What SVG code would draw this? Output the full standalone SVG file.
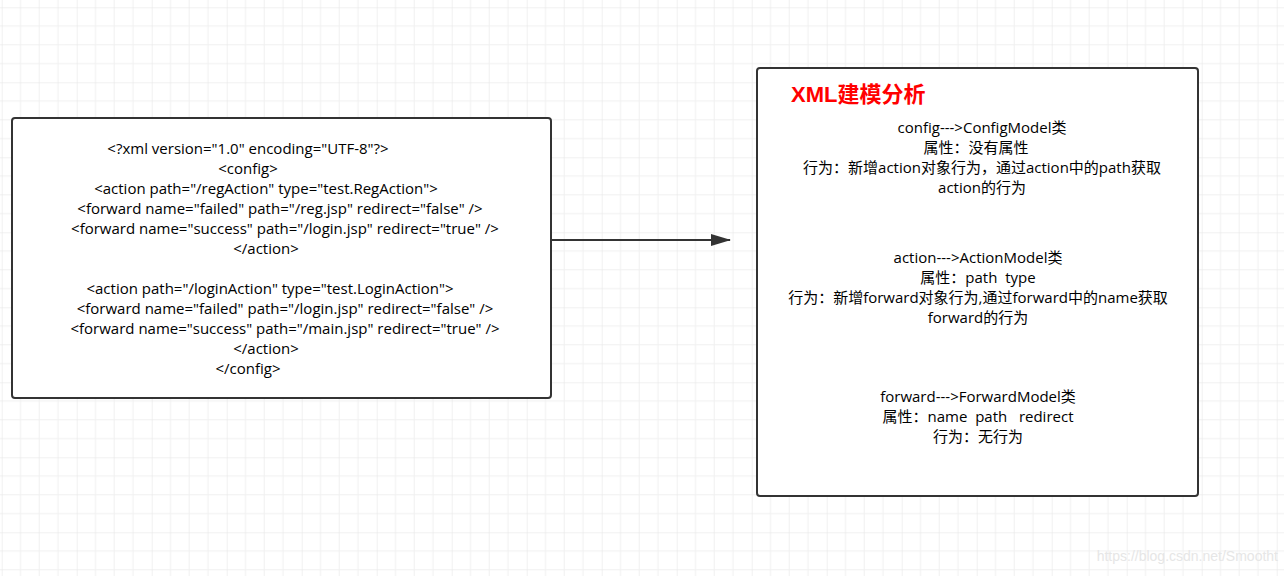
<svg xmlns="http://www.w3.org/2000/svg" width="1284" height="576" viewBox="0 0 1284 576">
<defs>
<pattern id="g" x="1.7" y="7.3" width="75" height="75" patternUnits="userSpaceOnUse">
<path d="M18.75 0V75M37.5 0V75M56.25 0V75M0 18.75H75M0 37.5H75M0 56.25H75" stroke="#f0f0f0" stroke-width="1" fill="none"/>
<path d="M0 0V75M0 0H75" stroke="#e4e4e4" stroke-width="1" fill="none"/>
</pattern>
<marker id="ah" markerWidth="20" markerHeight="12" refX="19" refY="6" orient="auto" markerUnits="userSpaceOnUse">
<path d="M0 0L20 6L0 12Z" fill="#333"/>
</marker>
</defs>
<style>
.box{fill:#fff;stroke:#333;stroke-width:2}
.t{font-family:"Open Sans","Noto Sans CJK SC",sans-serif;font-size:15px;fill:#000;text-anchor:middle}
</style>
<rect width="1284" height="576" fill="#fff"/>
<rect width="1284" height="576" fill="url(#g)"/>
<g id="connectors">
<line x1="551" y1="240" x2="730" y2="240" stroke="#333" stroke-width="2" marker-end="url(#ah)"/>
</g>
<g id="xml-node">
<rect class="box" x="12" y="118" width="539" height="280" rx="3"/>
<text class="t" x="248" y="154">&lt;?xml version="1.0" encoding="UTF-8"?&gt;</text>
<text class="t" x="248" y="174">&lt;config&gt;</text>
<text class="t" x="266" y="194">&lt;action path="/regAction" type="test.RegAction"&gt;</text>
<text class="t" x="280" y="214">&lt;forward name="failed" path="/reg.jsp" redirect="false" /&gt;</text>
<text class="t" x="285" y="234">&lt;forward name="success" path="/login.jsp" redirect="true" /&gt;</text>
<text class="t" x="266" y="254">&lt;/action&gt;</text>
<text class="t" x="270" y="294">&lt;action path="/loginAction" type="test.LoginAction"&gt;</text>
<text class="t" x="285" y="314">&lt;forward name="failed" path="/login.jsp" redirect="false" /&gt;</text>
<text class="t" x="285" y="334">&lt;forward name="success" path="/main.jsp" redirect="true" /&gt;</text>
<text class="t" x="266" y="354">&lt;/action&gt;</text>
<text class="t" x="248" y="374">&lt;/config&gt;</text>
</g>
<g id="model-node">
<rect class="box" x="757" y="68" width="441" height="428" rx="3"/>
<text x="791" y="102" font-family="'Liberation Sans','Noto Sans CJK SC',sans-serif" font-size="22" font-weight="bold" fill="#ff0000">XML建模分析</text>
<text class="t" x="982" y="133">config---&gt;ConfigModel类</text>
<text class="t" x="976" y="153">属性：没有属性</text>
<text class="t" x="982" y="173">行为：新增action对象行为，通过action中的path获取</text>
<text class="t" x="982" y="193">action的行为</text>
<text class="t" x="978" y="263">action---&gt;ActionModel类</text>
<text class="t" x="978" y="283" xml:space="preserve">属性：path  type</text>
<text class="t" x="978" y="303">行为：新增forward对象行为,通过forward中的name获取</text>
<text class="t" x="978" y="323">forward的行为</text>
<text class="t" x="978" y="402">forward---&gt;ForwardModel类</text>
<text class="t" x="978" y="422" xml:space="preserve">属性：name  path   redirect</text>
<text class="t" x="978" y="442">行为：无行为</text>
</g>
<text x="1278" y="561" text-anchor="end" font-family="'Liberation Sans',sans-serif" font-size="14" fill="#e6e6e6">https://blog.csdn.net/Smootht</text>
</svg>
